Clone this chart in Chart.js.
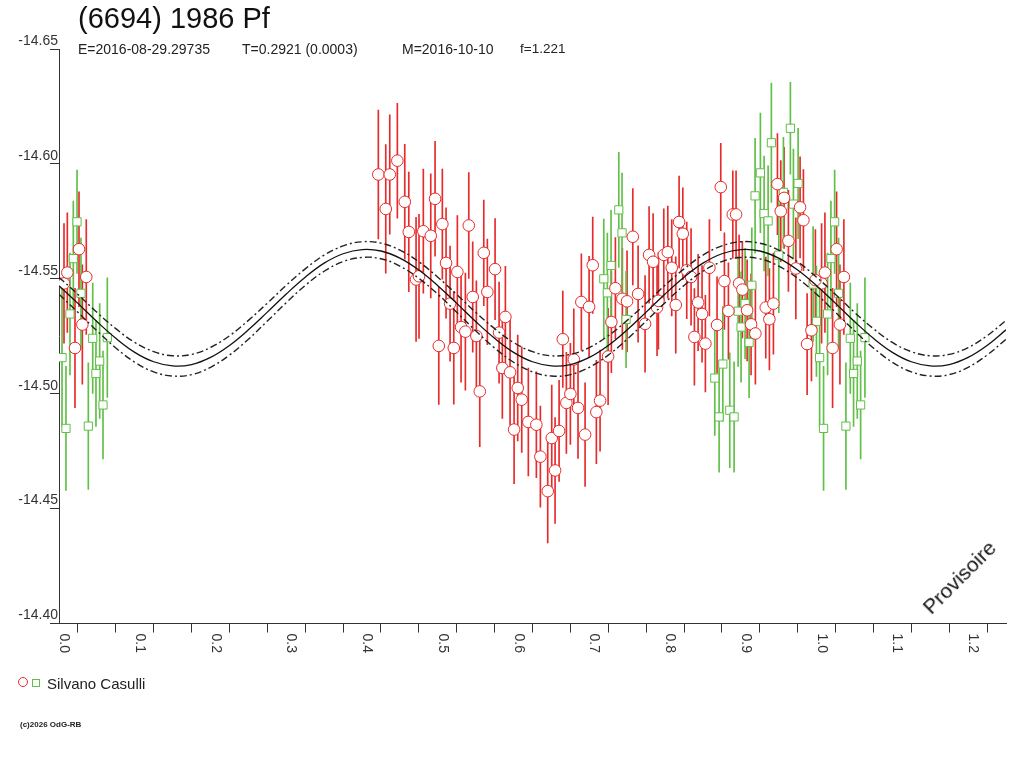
<!DOCTYPE html>
<html><head><meta charset="utf-8">
<script src="https://cdn.jsdelivr.net/npm/chart.js@4.4.1/dist/chart.umd.min.js"></script>
<style>
html,body{margin:0;padding:0;background:#fff;}
#wrap{position:relative;width:1024px;height:768px;overflow:hidden;font-family:"Liberation Sans",Arial,sans-serif;color:#222;}
canvas{position:absolute;left:0;top:0;}
.t{position:absolute;white-space:pre;line-height:1;}
</style></head><body>
<div id="wrap">
<canvas id="c" width="1024" height="768"></canvas>
<div class="t" style="left:78px;top:3.5px;font-size:29px;color:#111">(6694) 1986 Pf</div>
<div class="t" style="left:78px;top:42px;font-size:14px;">E=2016-08-29.29735</div>
<div class="t" style="left:242px;top:42px;font-size:14px;">T=0.2921 (0.0003)</div>
<div class="t" style="left:402px;top:42px;font-size:14px;">M=2016-10-10</div>
<div class="t" style="left:520px;top:42px;font-size:13.5px;">f=1.221</div>
<div style="position:absolute;left:18px;top:677px;width:10px;height:10px;border:1px solid #e82a2a;border-radius:50%;box-sizing:border-box;"></div>
<div style="position:absolute;left:32px;top:679px;width:8px;height:8px;border:1px solid #5fbf46;box-sizing:border-box;"></div>
<div class="t" style="left:47px;top:676px;font-size:15px;">Silvano Casulli</div>
<div class="t" style="left:20px;top:721px;font-size:8px;font-weight:bold;">(c)2026 OdG-RB</div>
<div class="t" style="left:959px;top:577px;font-size:21px;color:#111;transform:translate(-50%,-50%) rotate(-45deg);">Provisoire</div>
</div>
<script>
// ---- data ----
const redPhase = [0.0066,0.0110,0.0211,0.0264,0.0308,0.0360,
0.4215,0.4313,0.4366,0.4466,0.4564,0.4617,0.4713,0.4752,0.4809,0.4907,0.4964,0.5013,0.5060,0.5109,
0.5162,0.5211,0.5258,0.5307,0.5364,0.5409,0.5461,0.5509,0.5554,0.5607,0.5654,0.5756,0.5809,0.5852,
0.5892,0.5954,0.6007,0.6055,0.6108,0.6195,0.6301,0.6354,0.6451,0.6504,0.6548,0.6601,0.6650,0.6697,
0.6750,0.6795,0.6851,0.6895,0.6944,0.6997,0.7045,0.7093,0.7142,0.7248,0.7291,0.7344,0.7436,0.7498,
0.7574,0.7644,0.7736,0.7789,0.7842,0.7894,0.7912,0.7983,0.8036,0.8088,0.8141,0.8185,0.8234,0.8286,
0.8343,0.8387,0.8436,0.8488,0.8532,0.8585,0.8686,0.8735,0.8783,0.8836,0.8894,0.8937,0.8977,0.9020,
0.9083,0.9135,0.9192,0.9329,0.9377,0.9430,0.9483,0.9527,0.9571,0.9628,0.9726,0.9782,0.9826,0.9875,
0.9932,0.9984];
const redMag = [-14.5480,-14.5527,-14.5199,-14.5629,-14.5301,-14.5508,
-14.5954,-14.5804,-14.5954,-14.6014,-14.5835,-14.5704,-14.5497,-14.5511,-14.5707,-14.5687,-14.5848,-14.5208,-14.5738,-14.5569,
-14.5392,-14.5199,-14.5530,-14.5290,-14.5270,-14.5732,-14.5421,-14.5251,-14.5010,-14.5613,-14.5443,-14.5542,-14.5266,-14.5112,
-14.5334,-14.5093,-14.4844,-14.5025,-14.4974,-14.4877,-14.4865,-14.4726,-14.4576,-14.4807,-14.4666,-14.4838,-14.5237,-14.4960,
-14.4999,-14.5149,-14.4938,-14.5399,-14.4822,-14.5378,-14.5559,-14.4920,-14.4970,-14.5162,-14.5312,-14.5459,-14.5413,-14.5402,
-14.5683,-14.5434,-14.5304,-14.5604,-14.5574,-14.5375,-14.5404,-14.5604,-14.5616,-14.5548,-14.5386,-14.5747,-14.5696,-14.5537,
-14.5508,-14.5247,-14.5397,-14.5347,-14.5218,-14.5548,-14.5299,-14.5899,-14.5490,-14.5360,-14.5780,-14.5780,-14.5480,-14.5453,
-14.5363,-14.5302,-14.5262,-14.5375,-14.5324,-14.5392,-14.5912,-14.5794,-14.5852,-14.5665,-14.5545,-14.5811,-14.5755,-14.5216,
-14.5276,-14.5494];
const redErr = [0.026,0.026,0.026,0.025,0.026,0.025,
0.028,0.028,0.026,0.025,0.025,0.026,0.027,0.027,0.027,0.027,0.025,0.0255,0.024,0.024,
0.025,0.0245,0.0245,0.024,0.0255,0.023,0.024,0.024,0.024,0.023,0.023,0.022,0.022,0.022,
0.022,0.023,0.0235,0.023,0.023,0.0235,0.023,0.022,0.0225,0.023,0.023,0.022,0.021,0.022,
0.022,0.022,0.022,0.021,0.0225,0.022,0.021,0.0225,0.022,0.021,0.022,0.022,0.022,0.022,
0.021,0.021,0.021,0.021,0.021,0.021,0.021,0.020,0.020,0.021,0.021,0.020,0.020,0.021,
0.021,0.021,0.021,0.021,0.021,0.021,0.021,0.019,0.021,0.021,0.019,0.019,0.021,0.021,
0.022,0.022,0.022,0.022,0.022,0.022,0.022,0.022,0.022,0.022,0.022,0.022,0.022,0.022,
0.022,0.022];

const greenPhase = [0.0040,0.0092,0.0145,0.0189,0.0238,0.0290,0.0387,0.0445,0.0488,0.0537,0.0581,0.0638,
0.7191,0.7238,0.7287,0.7389,0.7432,0.7485,
0.8656,0.8713,0.8762,0.8854,0.8911,0.8964,0.9003,0.9056,0.9109,0.9145,0.9188,0.9258,0.9307,0.9360,
0.9403,0.9501,0.9562,0.9654,0.9694,0.9756,0.9954,0.9998];
const greenMag = [-14.5157,-14.4849,-14.5347,-14.5588,-14.5748,-14.5437,-14.4859,-14.5241,-14.5088,-14.5142,-14.4951,-14.5244,
-14.5500,-14.5439,-14.5558,-14.5800,-14.5700,-14.5323,
-14.5068,-14.4899,-14.5129,-14.4928,-14.4899,-14.5359,-14.5290,-14.5392,-14.5223,-14.5472,-14.5861,-14.5961,-14.5784,-14.5752,
-14.6092,-14.5603,-14.5876,-14.6155,-14.5825,-14.5915,-14.5477,-14.5315];
const greenErr = [0.030,0.027,0.0265,0.025,0.0225,0.024,0.0275,0.024,0.023,0.025,0.0235,0.026,
0.026,0.026,0.024,0.025,0.026,0.021,
0.025,0.024,0.025,0.025,0.024,0.024,0.024,0.024,0.024,0.025,0.025,0.026,0.025,0.024,
0.026,0.025,0.024,0.020,0.024,0.024,0.025,0.024];

// points observed near phase 0 are repeated one cycle later
const WRAP_LIMIT = 0.07;

const modelPhase = [0,0.025,0.05,0.075,0.1,0.125,0.15,0.175,0.2,0.225,0.25,0.275,0.3,0.325,0.35,0.375,0.4,0.425,0.45,0.475,
0.5,0.525,0.55,0.575,0.6,0.625,0.65,0.675,0.7,0.725,0.75,0.775,0.8,0.825,0.85,0.875,0.9,0.925,0.95,0.975,
1.0,1.025,1.05,1.075,1.1,1.125,1.15,1.175,1.2,1.225,1.25];
const modelMag = [-14.5470,-14.5393,-14.5314,-14.5241,-14.5180,-14.5139,-14.5121,-14.5127,-14.5158,-14.5210,-14.5278,-14.5355,-14.5434,-14.5507,-14.5568,-14.5609,-14.5627,-14.5621,-14.5590,-14.5538,
-14.5470,-14.5393,-14.5314,-14.5241,-14.5180,-14.5139,-14.5121,-14.5127,-14.5158,-14.5210,-14.5278,-14.5355,-14.5434,-14.5507,-14.5568,-14.5609,-14.5627,-14.5621,-14.5590,-14.5538,
-14.5470,-14.5393,-14.5314,-14.5241,-14.5180,-14.5139,-14.5121,-14.5127,-14.5158,-14.5210,-14.5278];
const modelUpper = [-14.5507,-14.5432,-14.5354,-14.5283,-14.5223,-14.5183,-14.5165,-14.5171,-14.5201,-14.5252,-14.5319,-14.5394,-14.5472,-14.5543,-14.5603,-14.5643,-14.5661,-14.5655,-14.5625,-14.5574,
-14.5507,-14.5432,-14.5354,-14.5283,-14.5223,-14.5183,-14.5165,-14.5171,-14.5201,-14.5252,-14.5319,-14.5394,-14.5472,-14.5543,-14.5603,-14.5643,-14.5661,-14.5655,-14.5625,-14.5574,
-14.5507,-14.5432,-14.5354,-14.5283,-14.5223,-14.5183,-14.5165,-14.5171,-14.5201,-14.5252,-14.5319];
const modelLower = [-14.5433,-14.5354,-14.5274,-14.5199,-14.5137,-14.5095,-14.5077,-14.5083,-14.5115,-14.5168,-14.5237,-14.5316,-14.5396,-14.5471,-14.5533,-14.5575,-14.5593,-14.5587,-14.5555,-14.5502,
-14.5433,-14.5354,-14.5274,-14.5199,-14.5137,-14.5095,-14.5077,-14.5083,-14.5115,-14.5168,-14.5237,-14.5316,-14.5396,-14.5471,-14.5533,-14.5575,-14.5593,-14.5587,-14.5555,-14.5502,
-14.5433,-14.5354,-14.5274,-14.5199,-14.5137,-14.5095,-14.5077,-14.5083,-14.5115,-14.5168,-14.5237];

const xLabelValues = [0,0.1,0.2,0.3,0.4,0.5,0.6,0.7,0.8,0.9,1.0,1.1,1.2];
const xLabels = ['0.0','0.1','0.2','0.3','0.4','0.5','0.6','0.7','0.8','0.9','1.0','1.1','1.2'];
const yMin = -14.65, yMax = -14.40;
const xMin = 0, xMax = 1.25;

// ---- build ----
function build(ph, mg, er) {
  const pts = [], bars = [];
  for (let i = 0; i < ph.length; i++) {
    const reps = ph[i] < WRAP_LIMIT ? [ph[i], ph[i] + 1] : [ph[i]];
    reps.forEach(x => {
      pts.push({x: x, y: mg[i]});
      bars.push({x: x, y: [mg[i] - er[i], mg[i] + er[i]]});
    });
  }
  return {pts, bars};
}
const R = build(redPhase, redMag, redErr);
const G = build(greenPhase, greenMag, greenErr);
const curve = arr => modelPhase.map((x, i) => ({x: x, y: arr[i]}));

const RED = '#e82a2a', GREEN = '#5fbf46', AX = '#333';

const xLabelPlugin = {
  id: 'xLabels',
  afterDraw(chart) {
    const xs = chart.scales.x, ctx = chart.ctx;
    ctx.save();
    ctx.font = '14px "Liberation Sans", Arial, sans-serif';
    ctx.fillStyle = AX;
    ctx.textAlign = 'left';
    ctx.textBaseline = 'alphabetic';
    xLabelValues.forEach((v, i) => {
      const px = xs.getPixelForValue(v);
      ctx.save();
      ctx.translate(px + 1, xs.top + 10);
      ctx.rotate(Math.PI / 2);
      ctx.fillText(xLabels[i], 0, 0);
      ctx.restore();
    });
    ctx.restore();
  }
};

Chart.defaults.font.family = '"Liberation Sans", Arial, sans-serif';

new Chart(document.getElementById('c'), {
  type: 'scatter',
  data: {
    datasets: [
      {type: 'line', data: curve(modelMag), borderColor: '#111', borderWidth: 1.3, pointRadius: 0, tension: 0.4, fill: false, order: 0},
      {type: 'line', data: curve(modelUpper), borderColor: '#222', borderWidth: 1.4, borderDash: [7, 3, 2, 3], pointRadius: 0, tension: 0.4, fill: false, order: 0},
      {type: 'line', data: curve(modelLower), borderColor: '#222', borderWidth: 1.4, borderDash: [7, 3, 2, 3], pointRadius: 0, tension: 0.4, fill: false, order: 0},
      {type: 'scatter', data: R.pts, pointStyle: 'circle', pointRadius: 5.8, borderWidth: 1, borderColor: RED, backgroundColor: '#fff', order: 2},
      {type: 'scatter', data: G.pts, pointStyle: 'rect', pointRadius: 5.8, borderWidth: 1, borderColor: GREEN, backgroundColor: '#fff', order: 2},
      {type: 'bar', data: R.bars, backgroundColor: RED, barThickness: 1, grouped: false, order: 4},
      {type: 'bar', data: G.bars, backgroundColor: GREEN, barThickness: 1, grouped: false, order: 3}
    ]
  },
  options: {
    responsive: false,
    animation: false,
    devicePixelRatio: 1,
    layout: {padding: {top: 49, right: 18, left: 0, bottom: 0}},
    plugins: {legend: {display: false}, tooltip: {enabled: false}, title: {display: false}},
    scales: {
      x: {
        type: 'linear', min: xMin, max: xMax, offset: false,
        afterFit: s => { s.height = 144.5; },
        ticks: {display: false, stepSize: 0.05},
        grid: {drawOnChartArea: false, drawTicks: true, tickLength: 9, color: AX, tickColor: AX},
        border: {display: true, color: AX, width: 1}
      },
      y: {
        type: 'linear', min: yMin, max: yMax, reverse: true,
        afterFit: s => { s.width = 59; },
        ticks: {stepSize: 0.05, padding: -8, labelOffset: -8, color: AX, font: {size: 14},
          callback: v => Number(v).toFixed(2)},
        grid: {drawOnChartArea: false, drawTicks: true, tickLength: 9, color: AX, tickColor: AX},
        border: {display: true, color: AX, width: 1}
      }
    }
  },
  plugins: [xLabelPlugin]
});
</script>
</body></html>
